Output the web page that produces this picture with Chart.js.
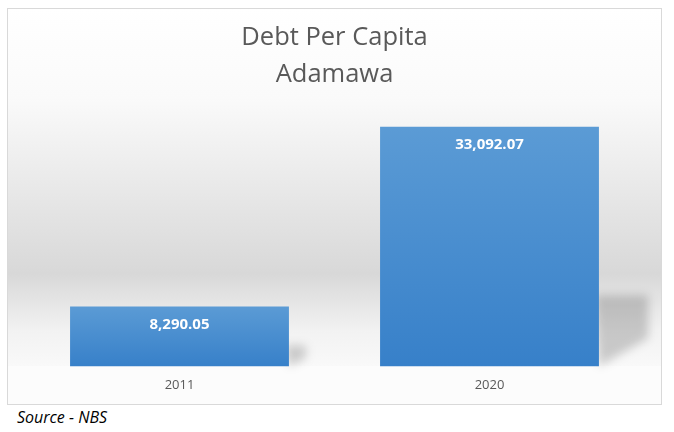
<!DOCTYPE html>
<html>
<head>
<meta charset="utf-8">
<script src="https://cdn.jsdelivr.net/npm/chart.js@4/dist/chart.umd.min.js"></script>
<style>
  body { margin: 0; background: #ffffff; width: 674px; height: 432px; overflow: hidden; }
  #box {
    position: absolute; left: 7px; top: 8px;
    width: 653px; height: 395px;
    border: 1px solid #d9d9d9;
  }
  #source {
    position: absolute; left: 17px; top: 406px;
    font: italic 16px "Open Sans", sans-serif; color: #000;
  }
</style>
</head>
<body>
<div id="box"><canvas id="chart" width="653" height="395"></canvas></div>
<div id="source">Source - NBS</div>
<script>
// valores
const anos = ["2011", "2020"];
const dividaPerCapita = [8290.05, 33092.07];
const eixoMax = 35000;

const fmt = (v) => v.toLocaleString("en-US", { minimumFractionDigits: 2, maximumFractionDigits: 2 });

// fundo com degradê cinza atrás das barras
const fundo = {
  id: "fundo",
  beforeDraw(chart) {
    const { ctx, chartArea, width, height } = chart;
    const g = ctx.createLinearGradient(0, 0, 0, chartArea.bottom);
    g.addColorStop(0, "#ffffff");
    g.addColorStop(0.25, "#fafafa");
    g.addColorStop(0.74, "#d8d8d8");
    g.addColorStop(0.9, "#f2f2f2");
    g.addColorStop(1, "#f9f9f9");
    ctx.save();
    ctx.fillStyle = g;
    ctx.fillRect(0, 0, width, chartArea.bottom);
    ctx.fillStyle = "#fcfcfc";
    ctx.fillRect(0, chartArea.bottom, width, height - chartArea.bottom);
    ctx.restore();
  },
};

// sombra em perspectiva à direita de cada barra
const sombra = {
  id: "sombra",
  beforeDatasetsDraw(chart) {
    const { ctx } = chart;
    chart.getDatasetMeta(0).data.forEach((bar) => {
      const dir = bar.x + bar.width / 2;
      const h = bar.base - bar.y;
      const s = h * 0.28 + 4;
      const w = h * 0.18 + 6;
      ctx.save();
      ctx.filter = "blur(5px)";
      ctx.fillStyle = "rgba(0,0,0,0.18)";
      ctx.beginPath();
      ctx.moveTo(dir - 4, bar.base - s);
      ctx.lineTo(dir + w, bar.base - s);
      ctx.lineTo(dir + w, bar.base - s * 0.4);
      ctx.lineTo(dir, bar.base);
      ctx.closePath();
      ctx.fill();
      ctx.restore();
    });
  },
};

// rótulos brancos dentro do topo das barras
const rotulos = {
  id: "rotulos",
  afterDatasetsDraw(chart) {
    const { ctx } = chart;
    ctx.save();
    ctx.font = "bold 15px 'Open Sans', sans-serif";
    ctx.fillStyle = "#ffffff";
    ctx.textAlign = "center";
    ctx.textBaseline = "middle";
    chart.getDatasetMeta(0).data.forEach((bar, i) => {
      ctx.fillText(fmt(dividaPerCapita[i]), bar.x, bar.y + 18);
    });
    ctx.restore();
  },
};

new Chart(document.getElementById("chart"), {
  type: "bar",
  data: {
    labels: anos,
    datasets: [
      {
        data: dividaPerCapita,
        backgroundColor(c) {
          const chart = c.chart;
          if (!chart.chartArea) return "#5b9bd5";
          const y = chart.scales.y;
          const topo = y.getPixelForValue(c.raw);
          const base = y.getPixelForValue(0);
          const g = chart.ctx.createLinearGradient(0, topo, 0, base);
          g.addColorStop(0, "#5b9bd5");
          g.addColorStop(1, "#3780c9");
          return g;
        },
        borderWidth: 0,
        categoryPercentage: 1,
        barPercentage: 0.706,
      },
    ],
  },
  options: {
    responsive: false,
    animation: false,
    layout: { padding: { left: 16.5, right: 16.5, top: 0, bottom: 0 } },
    plugins: {
      legend: { display: false },
      tooltip: { enabled: false },
      title: {
        display: true,
        text: ["Debt Per Capita", "Adamawa"],
        color: "#595959",
        font: { family: "'Open Sans', sans-serif", size: 25.5, weight: "normal", lineHeight: 37 / 25.5 },
        padding: { top: 10.5, bottom: 19.5 },
      },
    },
    scales: {
      x: {
        grid: { display: false, drawTicks: false },
        border: { display: false },
        ticks: { color: "#595959", font: { family: "'Open Sans', sans-serif", size: 13 }, padding: 11 },
      },
      y: {
        display: false,
        min: 0,
        max: eixoMax,
      },
    },
  },
  plugins: [fundo, sombra, rotulos],
});
</script>
</body>
</html>
